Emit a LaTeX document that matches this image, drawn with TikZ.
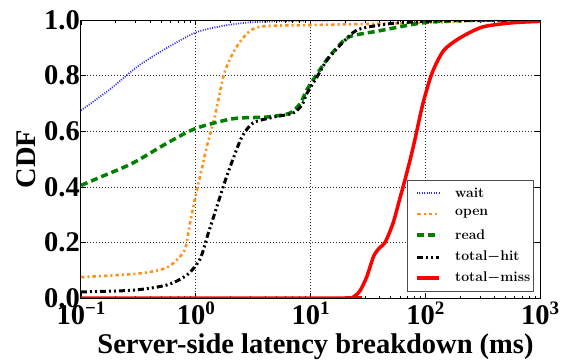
\documentclass[tikz,border=0pt]{standalone}
\usepackage{fontspec}
\usepackage{amsmath}
\newfontfamily\tnr{Liberation Serif}
\definecolor{cwait}{RGB}{40,40,255}
\definecolor{copen}{RGB}{255,145,25}
\definecolor{cread}{RGB}{0,128,0}
\definecolor{cmiss}{RGB}{255,0,0}
\tikzset{
  ticklabel/.style={font=\tnr\bfseries\fontsize{28.5}{28.5}\selectfont, inner sep=0pt},
  axislabel/.style={font=\tnr\bfseries\fontsize{28.5}{28.5}\selectfont, inner sep=0pt},
  legtext/.style={font=\bfseries\fontsize{14}{14}\selectfont, anchor=west, inner sep=0pt},
  gridline/.style={black!85, line width=0.6pt, dash pattern=on 1pt off 2pt},
  frame/.style={black, line width=1pt},
  waitline/.style={cwait, line width=1.7pt, dash pattern=on 1pt off 1.4pt},
  openline/.style={copen, line width=2.6pt, dash pattern=on 3.5pt off 3pt on 2pt off 3pt},
  readline/.style={cread, line width=3.5pt, dash pattern=on 7pt off 4pt},
  hitline/.style={black, line width=3pt, dash pattern=on 6pt off 3pt on 2pt off 3pt on 2pt off 3pt},
  missline/.style={cmiss, line width=3.5pt},
  curve/.style={smooth, tension=0.45},
}
\newcommand{\decade}[1]{10\raisebox{10pt}{\fontsize{19}{19}\selectfont #1}}
\begin{document}
\begin{tikzpicture}[x=114.75pt, y=278pt]
  \useasboundingbox (-81pt,-62pt) rectangle (481pt,298pt);
  % data space: x = log10(latency in ms), shifted so that 10^-1 sits on the left frame
  \begin{scope}[shift={(1,0)}]
    % grid
    \foreach \d in {0,1,2}
      \draw[gridline] (\d,0) -- (\d,1);
    \foreach \v in {0.2,0.4,0.6,0.8}
      \draw[gridline] (-1,\v) -- (3,\v);
    % ticks
    \foreach \d in {-1,0,1,2,3} {
      \draw[line width=0.6pt] (\d,0) -- ++(0,5pt);
      \draw[line width=0.6pt] (\d,1) -- ++(0,-5pt);
    }
    \foreach \d in {-1,0,1,2}
      \foreach \k in {2,...,9} {
        \draw[line width=0.5pt] ({\d+log10(\k)},0) -- ++(0,2.5pt);
        \draw[line width=0.5pt] ({\d+log10(\k)},1) -- ++(0,-2.5pt);
      }
    \foreach \v in {0,0.2,0.4,0.6,0.8,1} {
      \draw[line width=0.6pt] (-1,\v) -- ++(5pt,0);
      \draw[line width=0.6pt] (3,\v) -- ++(-5pt,0);
    }
    % curves
    \begin{scope}
      \clip (-1,0) rectangle (3,1);
      \draw[waitline] plot[curve] coordinates {(-1,0.675) (-0.75,0.75) (-0.5,0.835) (-0.25,0.90) (0,0.955) (0.25,0.98) (0.5,0.992) (1,0.998) (2,1) (3,1)};
      \draw[openline] plot[curve] coordinates {(-1,0.075) (-0.5,0.088) (-0.25,0.11) (-0.1,0.17) (-0.05,0.27) (0,0.37) (0.05,0.46) (0.1,0.55) (0.17,0.66) (0.25,0.81) (0.35,0.9) (0.47,0.96) (0.6,0.978) (1,0.982) (2,0.99) (2.5,0.998) (3,1)};
      \draw[readline] plot[curve] coordinates {(-1,0.405) (-0.83,0.435) (-0.55,0.485) (-0.25,0.557) (0,0.61) (0.325,0.645) (0.62,0.651) (0.82,0.665) (0.91,0.70) (0.97,0.75) (1.04,0.795) (1.14,0.856) (1.23,0.90) (1.34,0.94) (1.61,0.962) (1.98,0.99) (2.3,0.998) (3,1)};
      \draw[hitline] plot[curve] coordinates {(-1,0.022) (-0.547,0.028) (-0.25,0.047) (-0.076,0.083) (0.037,0.14) (0.107,0.23) (0.185,0.33) (0.255,0.42) (0.325,0.50) (0.403,0.58) (0.5,0.63) (0.673,0.65) (0.847,0.665) (0.926,0.695) (0.97,0.737) (1.057,0.795) (1.144,0.856) (1.283,0.92) (1.405,0.964) (1.606,0.982) (1.78,0.99) (2.2,0.998) (3,1)};
      \draw[missline] plot[curve] coordinates {(-1,0) (1.3,0) (1.37,0.003) (1.43,0.025) (1.49,0.076) (1.55,0.15) (1.6,0.18) (1.65,0.2) (1.72,0.27) (1.78,0.36) (1.82,0.42) (1.87,0.5) (1.91,0.57) (1.98,0.70) (2.06,0.81) (2.16,0.89) (2.3,0.935) (2.5,0.975) (2.76,0.99) (3,0.995)};
    \end{scope}
    % frame
    \draw[frame] (-1,0) rectangle (3,1);
    % tick labels
    \node[ticklabel, anchor=base] (xm1) at (-1,0) [yshift=-26pt] {\decade{−1}};
    \node[ticklabel, anchor=base] (x0) at (0,0) [yshift=-26pt] {\decade{0}};
    \node[ticklabel, anchor=base] (x1) at (1,0) [yshift=-26pt] {\decade{1}};
    \node[ticklabel, anchor=base] (x2) at (2,0) [yshift=-26pt] {\decade{2}};
    \node[ticklabel, anchor=base] (x3) at (3,0) [yshift=-26pt] {\decade{3}};
    \foreach \v/\t in {0/0.0,0.2/0.2,0.4/0.4,0.6/0.6,0.8/0.8,1/1.0}
      \node[ticklabel, anchor=east] (y\t) at (-1,\v) [xshift=-1pt] {\t};
  \end{scope}
  % axis titles
  \node[axislabel, anchor=base] (xtitle) at (234.5pt,-55pt) {Server-side latency breakdown (ms)};
  \node[axislabel, rotate=90] (ytitle) at (-55pt,139pt) {CDF};
  % legend
  \node[draw=black!70, line width=0.8pt, fill=white, minimum width=126pt, minimum height=111pt, inner sep=0pt, anchor=south west] (legend) at (326pt,6pt) {};
  \coordinate (la1) at (336pt,105pt); \coordinate (lb1) at (358pt,105pt);
  \coordinate (la2) at (336pt,84pt);  \coordinate (lb2) at (358pt,84pt);
  \coordinate (la3) at (336pt,63pt);  \coordinate (lb3) at (358pt,63pt);
  \coordinate (la4) at (336pt,41pt);  \coordinate (lb4) at (358pt,41pt);
  \coordinate (la5) at (336pt,20pt);  \coordinate (lb5) at (358pt,20pt);
  \draw[waitline] (la1) -- (lb1);
  \draw[openline] (la2) -- (lb2);
  \draw[readline] (la3) -- (lb3);
  \draw[hitline] (la4) -- (lb4);
  \draw[missline] (la5) -- (lb5);
  \node[legtext] (lt1) at (374pt,105pt) {wait};
  \node[legtext] (lt2) at (374pt,84pt) {open};
  \node[legtext] (lt3) at (374pt,63pt) {read};
  \node[legtext] (lt4) at (374pt,41pt) {total{\boldmath$-$}hit};
  \node[legtext] (lt5) at (374pt,20pt) {total{\boldmath$-$}miss};
\end{tikzpicture}
\end{document}
